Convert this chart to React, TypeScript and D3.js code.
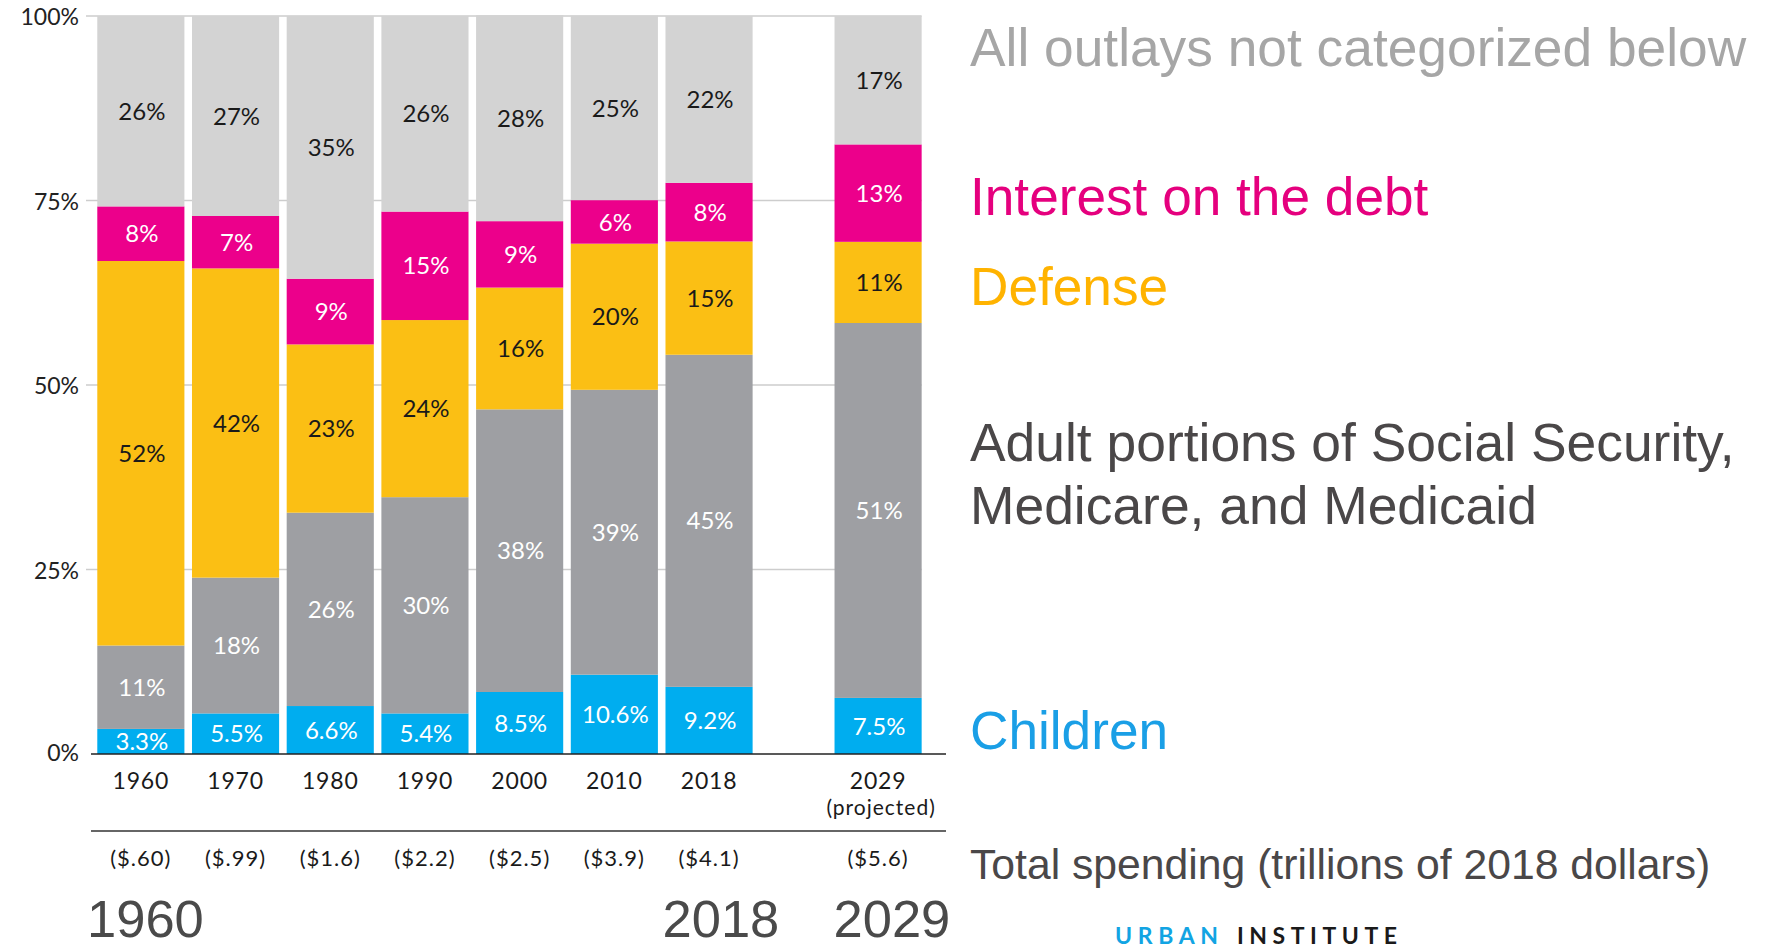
import React from "react";
import * as d3 from "d3";

// ---------- data ----------
const years = ["1960", "1970", "1980", "1990", "2000", "2010", "2018", "2029"];
const yearNotes = ["", "", "", "", "", "", "", "(projected)"];
const totalSpending = ["($.60)", "($.99)", "($1.6)", "($2.2)", "($2.5)", "($3.9)", "($4.1)", "($5.6)"];

const children = [3.4, 5.5, 6.5, 5.5, 8.4, 10.75, 9.1, 7.6];
const adult = [11.3, 18.4, 26.2, 29.3, 38.3, 38.6, 45.0, 50.8];
const defense = [52.1, 41.9, 22.8, 24.0, 16.5, 19.8, 15.35, 11.0];
const interest = [7.4, 7.1, 8.9, 14.7, 9.0, 5.9, 7.95, 13.2];
const other = [25.8, 27.1, 35.6, 26.5, 27.9, 25.0, 22.6, 17.4];

const childrenLabels = ["3.3%", "5.5%", "6.6%", "5.4%", "8.5%", "10.6%", "9.2%", "7.5%"];
const adultLabels = ["11%", "18%", "26%", "30%", "38%", "39%", "45%", "51%"];
const defenseLabels = ["52%", "42%", "23%", "24%", "16%", "20%", "15%", "11%"];
const interestLabels = ["8%", "7%", "9%", "15%", "9%", "6%", "8%", "13%"];
const otherLabels = ["26%", "27%", "35%", "26%", "28%", "25%", "22%", "17%"];

const yTicks = [0, 25, 50, 75, 100];
const bigYears = ["1960", "2018", "2029"];

// ---------- styling ----------
const W = 1768;
const H = 949;
const keys = ["children", "adult", "defense", "interest", "other"];
const fills: Record<string, string> = {
  children: "#00adef",
  adult: "#9e9fa3",
  defense: "#fbbf14",
  interest: "#ec008b",
  other: "#d3d3d3",
};
const labelColors: Record<string, string> = {
  children: "#ffffff",
  adult: "#ffffff",
  defense: "#1a1a1a",
  interest: "#ffffff",
  other: "#1a1a1a",
};
const seriesLabels: Record<string, string[]> = {
  children: childrenLabels,
  adult: adultLabels,
  defense: defenseLabels,
  interest: interestLabels,
  other: otherLabels,
};

const LATO = "Lato, 'Open Sans', sans-serif";
const ARIAL = "'Liberation Sans', Arial, Helvetica, sans-serif";

export default function App() {
  const rows = years.map((y, i) => ({
    year: y,
    children: children[i],
    adult: adult[i],
    defense: defense[i],
    interest: interest[i],
    other: other[i],
  }));
  const stacked = d3.stack<any>().keys(keys)(rows);

  const historical = years.slice(0, 7);
  const band = d3
    .scaleBand<string>()
    .domain(historical)
    .range([93.5, 756.4])
    .paddingInner(0.08)
    .paddingOuter(0.04);
  const step = band.step();
  const projGap = 1.785 * step;
  const xPos = (yr: string) =>
    historical.includes(yr) ? (band(yr) as number) : (band(historical[6]) as number) + projGap;
  const bw = band.bandwidth();

  const y = d3.scaleLinear().domain([0, 100]).range([754, 16]);

  const gridLeft = 86;
  const gridRight = xPos("2029") + bw;
  const axisLeft = 91;
  const axisRight = 946;

  return (
    <svg
      width={W}
      height={H}
      style={{ position: "absolute", left: 0, top: 0, display: "block", background: "#fff" }}
    >
      {/* gridlines */}
      {yTicks.filter((t) => t > 0).map((t) => (
        <line
          key={"g" + t}
          x1={gridLeft}
          x2={gridRight}
          y1={y(t)}
          y2={y(t)}
          stroke="#cdcdcd"
          strokeWidth={1.5}
        />
      ))}
      {/* y tick labels */}
      {yTicks.map((t) => (
        <text
          key={"yt" + t}
          x={79}
          y={y(t)}
          dy={t === 0 ? "0.3em" : "0.4em"}
          textAnchor="end"
          fontFamily={LATO}
          fontSize={23}
          fill="#222"
        >
          {t + "%"}
        </text>
      ))}

      {/* bars */}
      {stacked.map((s) => (
        <g key={s.key}>
          {s.map((d, i) => (
            <rect
              key={s.key + i}
              x={xPos(years[i])}
              width={bw}
              y={y(d[1])}
              height={y(d[0]) - y(d[1])}
              fill={fills[s.key]}
            />
          ))}
        </g>
      ))}
      {/* bar labels */}
      {stacked.map((s) => (
        <g key={"l" + s.key}>
          {s.map((d, i) => (
            <text
              key={s.key + "t" + i}
              x={xPos(years[i]) + bw / 2 + 1}
              y={(y(d[0]) + y(d[1])) / 2}
              dy="0.36em"
              textAnchor="middle"
              fontFamily={LATO}
              fontSize={24}
              fill={labelColors[s.key]}
            >
              {seriesLabels[s.key][i]}
            </text>
          ))}
        </g>
      ))}

      {/* baseline axis */}
      <line x1={axisLeft} x2={axisRight} y1={y(0)} y2={y(0)} stroke="#222" strokeWidth={1.5} />

      {/* year labels */}
      {years.map((yr, i) => (
        <g key={"yr" + yr}>
          <text
            x={xPos(yr) + bw / 2}
            y={789}
            textAnchor="middle"
            fontFamily={LATO}
            fontSize={23}
            letterSpacing={0.8}
            fill="#1a1a1a"
          >
            {yr}
          </text>
          {yearNotes[i] && (
            <text
              x={xPos(yr) + bw / 2 + 3}
              y={815}
              textAnchor="middle"
              fontFamily={LATO}
              fontSize={21}
              letterSpacing={1}
              fill="#1a1a1a"
            >
              {yearNotes[i]}
            </text>
          )}
          <text
            x={xPos(yr) + bw / 2}
            y={866}
            textAnchor="middle"
            fontFamily={LATO}
            fontSize={22}
            letterSpacing={1}
            fill="#1a1a1a"
          >
            {totalSpending[i]}
          </text>
        </g>
      ))}
      <line x1={axisLeft} x2={axisRight} y1={831} y2={831} stroke="#333" strokeWidth={1.5} />

      {/* big year captions */}
      {bigYears.map((yr, i) => (
        <text
          key={"big" + yr}
          x={i === 0 ? 87 : xPos(yr) - (i === 1 ? 3 : 1)}
          y={937}
          fontFamily={ARIAL}
          fontSize={52.5}
          fill="#4a4a4a"
        >
          {yr}
        </text>
      ))}

      {/* legend on the right */}
      <g fontFamily={ARIAL}>
        <text x={970} y={65.5} fontSize={53.3} fill="#a6a6a6">
          All outlays not categorized below
        </text>
        <text x={970} y={215} fontSize={53.2} fill="#e5007e">
          Interest on the debt
        </text>
        <text x={970} y={305} fontSize={53.2} fill="#ffb300">
          Defense
        </text>
        <text x={970} y={460.5} fontSize={53.4} fill="#4a4748">
          Adult portions of Social Security,
        </text>
        <text x={970} y={524} fontSize={53.4} fill="#4a4748">
          Medicare, and Medicaid
        </text>
        <text x={970} y={749} fontSize={53.2} fill="#1a9fe6">
          Children
        </text>
        <text x={970} y={879} fontSize={42.7} fill="#4a4748">
          Total spending (trillions of 2018 dollars)
        </text>
      </g>

      {/* logo */}
      <g fontFamily={LATO} fontWeight={700} fontSize={23}>
        <text x={1115} y={944} fill="#12a4e3" textLength={103} lengthAdjust="spacing">
          URBAN
        </text>
        <text x={1237} y={944} fill="#1a1a1a" textLength={160} lengthAdjust="spacing">
          INSTITUTE
        </text>
      </g>
    </svg>
  );
}
